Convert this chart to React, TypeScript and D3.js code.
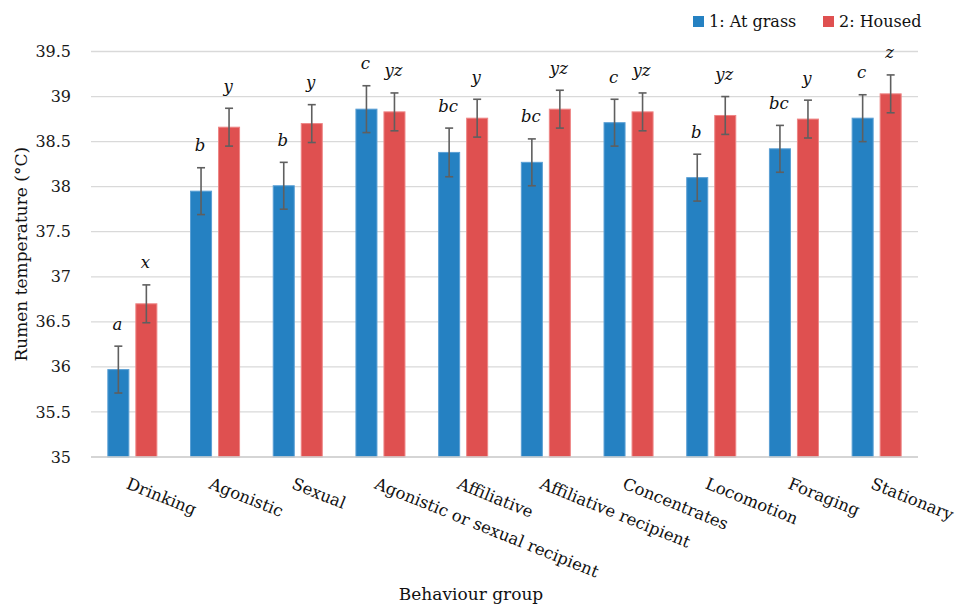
import React, { useEffect, useRef } from "react";
import * as d3 from "d3";

// Behaviour groups on the x axis
const categories = [
  "Drinking",
  "Agonistic",
  "Sexual",
  "Agonistic or sexual recipient",
  "Affiliative",
  "Affiliative recipient",
  "Concentrates",
  "Locomotion",
  "Foraging",
  "Stationary",
];

// Mean rumen temperature (°C) per group
const atGrass = [35.97, 37.95, 38.01, 38.86, 38.38, 38.27, 38.71, 38.10, 38.42, 38.76];
const housed = [36.70, 38.66, 38.70, 38.83, 38.76, 38.86, 38.83, 38.79, 38.75, 39.03];

// Standard errors shown as error bars
const atGrassErr = [0.26, 0.26, 0.26, 0.26, 0.27, 0.26, 0.26, 0.26, 0.26, 0.26];
const housedErr = [0.21, 0.21, 0.21, 0.21, 0.21, 0.21, 0.21, 0.21, 0.21, 0.21];

// Significance letters
const atGrassLetters = ["a", "b", "b", "c", "bc", "bc", "c", "b", "bc", "c"];
const housedLetters = ["x", "y", "y", "yz", "y", "yz", "yz", "yz", "y", "z"];

const seriesNames = ["1: At grass", "2: Housed"];
const yTicks = [35, 35.5, 36, 36.5, 37, 37.5, 38, 38.5, 39, 39.5];

const COLORS = ["#2581C2", "#DF5050"];
const STROKES = ["#5A9FD4", "#EE8585"];
const FONT = "'DejaVu Serif', serif";

export default function App() {
  const ref = useRef<SVGSVGElement>(null);

  useEffect(() => {
    const svg = d3.select(ref.current);
    svg.selectAll("*").remove();

    const x0 = 91;
    const x1 = 918;
    const y = d3.scaleLinear().domain([35, 39.5]).range([457, 51.5]);
    const x = d3
      .scaleBand<string>()
      .domain(categories)
      .range([x0, x1])
      .paddingInner(0.395)
      .paddingOuter(0.1975);
    const xs = d3
      .scaleBand<number>()
      .domain([0, 1])
      .range([0, x.bandwidth()])
      .paddingInner(0.214);

    // gridlines
    svg
      .append("g")
      .selectAll("line")
      .data(yTicks)
      .join("line")
      .attr("x1", x0)
      .attr("x2", x1)
      .attr("y1", (d) => y(d))
      .attr("y2", (d) => y(d))
      .attr("stroke", "#D9D9D9")
      .attr("stroke-width", 1.3);

    // y tick labels
    svg
      .append("g")
      .selectAll("text")
      .data(yTicks)
      .join("text")
      .attr("x", 71)
      .attr("y", (d) => y(d))
      .attr("dy", "0.35em")
      .attr("text-anchor", "end")
      .attr("font-family", FONT)
      .attr("font-size", 16)
      .attr("fill", "#1a1a1a")
      .text((d) => String(d));

    const series = [
      { values: atGrass, err: atGrassErr, letters: atGrassLetters },
      { values: housed, err: housedErr, letters: housedLetters },
    ];

    series.forEach((s, si) => {
      const g = svg.append("g");
      const rows = categories.map((c, i) => ({
        c,
        v: s.values[i],
        e: s.err[i],
        l: s.letters[i],
      }));
      const bx = (d: { c: string }) => (x(d.c) as number) + (xs(si) as number);
      const bw = xs.bandwidth();

      g.selectAll("rect")
        .data(rows)
        .join("rect")
        .attr("x", (d) => bx(d) + 0.5)
        .attr("y", (d) => y(d.v))
        .attr("width", bw - 1)
        .attr("height", (d) => y(35) - y(d.v))
        .attr("fill", COLORS[si])
        .attr("stroke", STROKES[si])
        .attr("stroke-width", 1);

      // error bars
      const eg = g.append("g").attr("stroke", "#5F5F5F").attr("stroke-width", 1.6);
      rows.forEach((d) => {
        const cx = bx(d) + bw / 2;
        const top = y(d.v + d.e);
        const bot = y(d.v - d.e);
        eg.append("line").attr("x1", cx).attr("x2", cx).attr("y1", top).attr("y2", bot);
        eg.append("line").attr("x1", cx - 4).attr("x2", cx + 4).attr("y1", top).attr("y2", top);
        eg.append("line").attr("x1", cx - 4).attr("x2", cx + 4).attr("y1", bot).attr("y2", bot);
      });

      // significance letters
      g.selectAll("text.letter")
        .data(rows)
        .join("text")
        .attr("class", "letter")
        .attr("x", (d) => bx(d) + bw / 2 - 1)
        .attr("y", (d) => y(d.v + d.e) - 16.5)
        .attr("text-anchor", "middle")
        .attr("font-family", FONT)
        .attr("font-style", "italic")
        .attr("font-size", 16.5)
        .attr("fill", "#111")
        .text((d) => d.l);
    });

    // x axis baseline
    svg
      .append("line")
      .attr("x1", x0)
      .attr("x2", x1)
      .attr("y1", y(35))
      .attr("y2", y(35))
      .attr("stroke", "#D0D0D0")
      .attr("stroke-width", 1.5);

    // rotated category labels
    svg
      .append("g")
      .selectAll("text")
      .data(categories)
      .join("text")
      .attr("transform", (d) => {
        const cx = (x(d) as number) + x.bandwidth() / 2 - 7;
        return `translate(${cx},488) rotate(22)`;
      })
      .attr("text-anchor", "start")
      .attr("font-family", FONT)
      .attr("font-size", 16.5)
      .attr("fill", "#111")
      .text((d) => d);

    // axis titles
    svg
      .append("text")
      .attr("x", 471)
      .attr("y", 600)
      .attr("text-anchor", "middle")
      .attr("font-family", FONT)
      .attr("font-size", 17)
      .attr("fill", "#111")
      .text("Behaviour group");

    svg
      .append("text")
      .attr("transform", `translate(26.5,${(y(35) + y(39.5)) / 2}) rotate(-90)`)
      .attr("text-anchor", "middle")
      .attr("font-family", FONT)
      .attr("font-size", 17)
      .attr("fill", "#111")
      .text("Rumen temperature (°C)");

    // legend
    const legendX = [693, 823];
    seriesNames.forEach((name, i) => {
      svg
        .append("rect")
        .attr("x", legendX[i])
        .attr("y", 16)
        .attr("width", 11)
        .attr("height", 11)
        .attr("fill", COLORS[i]);
      svg
        .append("text")
        .attr("x", legendX[i] + 16)
        .attr("y", 27)
        .attr("font-family", FONT)
        .attr("font-size", 16)
        .attr("fill", "#111")
        .text(name);
    });
  }, []);

  return (
    <svg
      ref={ref}
      width={957}
      height={608}
      style={{ position: "absolute", left: 0, top: 0, background: "#fff" }}
    />
  );
}
